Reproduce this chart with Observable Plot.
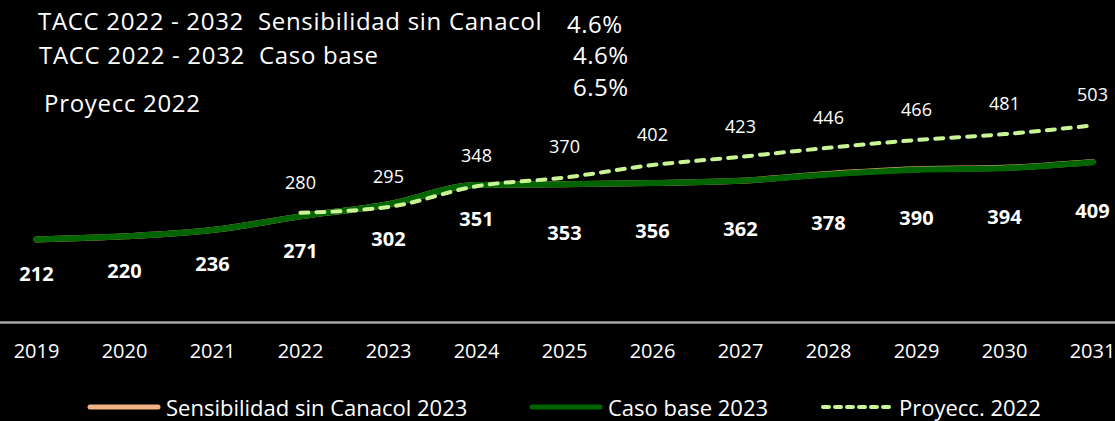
<!DOCTYPE html>
<html>
<head>
<meta charset="utf-8">
<script src="https://cdn.jsdelivr.net/npm/d3@7"></script>
<script src="https://cdn.jsdelivr.net/npm/@observablehq/plot@0.6"></script>
<style>
  html, body { margin: 0; padding: 0; background: #000; }
  #wrap { position: relative; width: 1115px; height: 421px; background: #000; font-family: "Open Sans", Lato, sans-serif; color: #fff; overflow: hidden; }
  .note { position: absolute; white-space: pre; color: #fff; line-height: 1; }
  .t { font-size: 24px; letter-spacing: 0.7px; }
  .p { font-size: 24px; letter-spacing: 0.5px; }
  #legend { position: absolute; top: 396px; left: 0; width: 1115px; height: 22px; font-size: 22px; line-height: 22px; }
  .li { position: absolute; top: 0; display: flex; align-items: center; height: 22px; white-space: nowrap; }
  .li svg { margin-right: 4px; }
</style>
</head>
<body>
<div id="wrap">
  <div id="chart"></div>
  <div id="notes"></div>
  <div id="legend"></div>
</div>
<script>
// ---- data ----
const years = [2019, 2020, 2021, 2022, 2023, 2024, 2025, 2026, 2027, 2028, 2029, 2030, 2031];
const casoBase2023 = [212, 220, 236, 271, 302, 351, 353, 356, 362, 378, 390, 394, 409];
const sinCanacol2023 = [212, 220, 236, 271, 302, 351, 353, 356, 362, 379, 391, 395, 410];
const proyYears = [2022, 2023, 2024, 2025, 2026, 2027, 2028, 2029, 2030, 2031];
const proyecc2022 = [280, 295, 348, 370, 402, 423, 446, 466, 481, 503];
const seriesNames = ["Sensibilidad sin Canacol 2023", "Caso base 2023", "Proyecc. 2022"];
const taccLabels = ["TACC 2022 - 2032  Sensibilidad sin Canacol", "TACC 2022 - 2032  Caso base", "Proyecc 2022"];
const taccValues = ["4.6%", "4.6%", "6.5%"];

const base = years.map((year, i) => ({year, value: casoBase2023[i]}));
const sens = years.map((year, i) => ({year, value: sinCanacol2023[i]}));
const proy = proyYears.map((year, i) => ({year, value: proyecc2022[i]}));

const colors = {sens: "#f4b183", base: "#006400", proy: "#c9f594"};
const font = "'Open Sans', Lato, sans-serif";

const plot = Plot.plot({
  width: 1115,
  height: 380,
  marginLeft: 35,
  marginRight: 23,
  marginTop: 87,
  marginBottom: 58,
  style: {background: "#000", color: "#fff", fontFamily: font, overflow: "visible"},
  x: {type: "point", domain: years, padding: 0, label: null},
  y: {domain: [0, 600], axis: null},
  marks: [
    Plot.ruleY([0], {stroke: "#a6a6a6", strokeWidth: 2.5, insetLeft: -35, insetRight: -23}),
    Plot.axisX({tickSize: 0, tickPadding: 21, fontSize: 20, fill: "#fff", label: null, tickFormat: d => String(d)}),
    Plot.line(sens, {x: "year", y: "value", stroke: colors.sens, strokeWidth: 6, curve: "monotone-x", strokeLinecap: "round"}),
    Plot.line(base, {x: "year", y: "value", stroke: colors.base, strokeWidth: 6, curve: "monotone-x", strokeLinecap: "round"}),
    Plot.line(proy, {x: "year", y: "value", stroke: colors.proy, strokeWidth: 4, strokeDasharray: "8,8", strokeLinecap: "round", curve: "monotone-x"}),
    Plot.text(proy, {x: "year", y: "value", text: d => String(d.value), dy: -30, fill: "#fff", fontSize: 18}),
    Plot.text(base.filter(d => d.year <= 2024), {x: "year", y: "value", text: d => String(d.value), dy: 35, fill: "#fff", fontSize: 20, fontWeight: "bold"}),
    Plot.text(base.filter(d => d.year > 2024), {x: "year", y: "value", text: d => String(d.value), dy: 49, fill: "#fff", fontSize: 20, fontWeight: "bold"})
  ]
});
document.getElementById("chart").appendChild(plot);

// ---- annotations (TACC) ----
const notes = document.getElementById("notes");
const labelPos = [{left: 38, top: 9}, {left: 39, top: 43}, {left: 44, top: 91}];
const valuePos = [{left: 567, top: 12}, {left: 573, top: 43}, {left: 573, top: 75}];
taccLabels.forEach((t, i) => {
  const d = document.createElement("div");
  d.className = "note t";
  d.textContent = t;
  d.style.left = labelPos[i].left + "px";
  d.style.top = labelPos[i].top + "px";
  notes.appendChild(d);
  const v = document.createElement("div");
  v.className = "note p";
  v.textContent = taccValues[i];
  v.style.left = valuePos[i].left + "px";
  v.style.top = valuePos[i].top + "px";
  notes.appendChild(v);
});

// ---- legend ----
const legend = document.getElementById("legend");
const legendItems = [
  {name: seriesNames[0], color: colors.sens, dash: null, width: 5, left: 86},
  {name: seriesNames[1], color: colors.base, dash: null, width: 5, left: 528},
  {name: seriesNames[2], color: colors.proy, dash: "6,6", width: 4, left: 819}
];
legendItems.forEach(it => {
  const item = document.createElement("div");
  item.className = "li";
  item.style.left = it.left + "px";
  const svg = d3.create("svg").attr("width", 76).attr("height", 22);
  svg.append("line").attr("x1", 4).attr("x2", 72).attr("y1", 11).attr("y2", 11)
    .attr("stroke", it.color).attr("stroke-width", it.width).attr("stroke-linecap", "round")
    .attr("stroke-dasharray", it.dash);
  item.appendChild(svg.node());
  const span = document.createElement("span");
  span.textContent = it.name;
  item.appendChild(span);
  legend.appendChild(item);
});
</script>
</body>
</html>
